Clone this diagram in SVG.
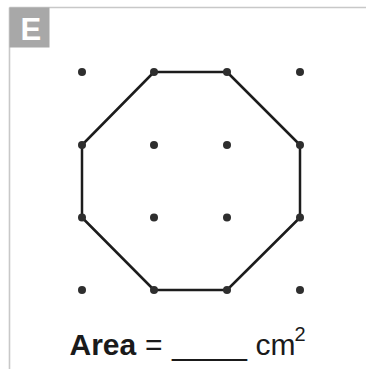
<svg xmlns="http://www.w3.org/2000/svg" width="366" height="369" viewBox="0 0 366 369">
<style>
.frame{stroke:#c8c8c8;stroke-width:1.6;fill:none}
.dot{fill:#2e2e2e}
.edge{stroke:#1c1c1c;stroke-width:2.5;fill:none;stroke-linejoin:round}
.txt{font-family:"Liberation Sans",Arial,sans-serif;fill:#1a1a1a}
</style>
<rect width="366" height="369" fill="#ffffff"/>
<g id="frame">
<line class="frame" x1="9.5" y1="7.5" x2="366" y2="7.5"/>
<line class="frame" x1="9.5" y1="7.5" x2="9.5" y2="369"/>
</g>
<g id="label-E">
<rect x="9.5" y="7.5" width="40" height="40" fill="#a8a8a8"/>
<text x="20.5" y="40" class="txt" style="fill:#ffffff;font-weight:bold;font-size:31px">E</text>
</g>
<g id="connectors">
<polygon class="edge" points="154,72 227,72 300,145 300,217.5 227,290 154,290 82,217.5 82,145"/>
</g>
<g id="dots">
<circle class="dot" cx="82" cy="72" r="4"/>
<circle class="dot" cx="154" cy="72" r="4"/>
<circle class="dot" cx="227" cy="72" r="4"/>
<circle class="dot" cx="300" cy="72" r="4"/>
<circle class="dot" cx="82" cy="145" r="4"/>
<circle class="dot" cx="154" cy="145" r="4"/>
<circle class="dot" cx="227" cy="145" r="4"/>
<circle class="dot" cx="300" cy="145" r="4"/>
<circle class="dot" cx="82" cy="217.5" r="4"/>
<circle class="dot" cx="154" cy="217.5" r="4"/>
<circle class="dot" cx="227" cy="217.5" r="4"/>
<circle class="dot" cx="300" cy="217.5" r="4"/>
<circle class="dot" cx="82" cy="290" r="4"/>
<circle class="dot" cx="154" cy="290" r="4"/>
<circle class="dot" cx="227" cy="290" r="4"/>
<circle class="dot" cx="300" cy="290" r="4"/>
</g>
<g id="caption" class="txt" style="font-size:30px">
<text x="69.5" y="355" style="font-weight:bold">Area</text>
<text x="145" y="355">=</text>
<text x="172" y="355" textLength="75" lengthAdjust="spacingAndGlyphs">_____</text>
<text x="255.5" y="355">cm</text>
<text x="294.5" y="341" style="font-size:20px">2</text>
</g>
</svg>
